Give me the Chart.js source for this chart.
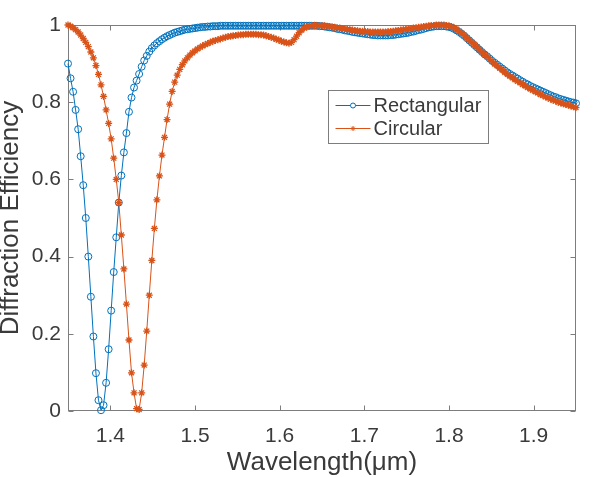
<!DOCTYPE html>
<html>
<head>
<meta charset="utf-8">
<script src="https://cdn.jsdelivr.net/npm/chart.js@4.4.1/dist/chart.umd.min.js"></script>
<style>
  html, body { margin: 0; padding: 0; background: #fff; }
  #wrap { width: 593px; height: 477px; }
</style>
</head>
<body>
<div id="wrap"><canvas id="chart" width="593" height="477"></canvas></div>
<script>
// sampling grid of the simulation (um)
const wlStart = 1.35;
const wlStep = 0.003;

const seriesNames = ['Rectangular', 'Circular'];

// values, one per wavelength sample
const rectangular = [
  0.900, 0.862, 0.827, 0.780, 0.730, 0.660, 0.585, 0.500, 0.400, 0.296,
  0.193, 0.098, 0.028, 0.002, 0.015, 0.073, 0.160, 0.260, 0.360, 0.450,
  0.540, 0.610, 0.670, 0.720, 0.775, 0.812, 0.838, 0.856, 0.873, 0.892,
  0.908, 0.920, 0.931, 0.940, 0.947, 0.953, 0.958, 0.963, 0.967, 0.971,
  0.974, 0.977, 0.980, 0.982, 0.984, 0.986, 0.988, 0.989, 0.990, 0.991,
  0.992, 0.993, 0.994, 0.995, 0.995, 0.996, 0.996, 0.997, 0.997, 0.997,
  0.998, 0.998, 0.998, 0.998, 0.998, 0.998, 0.998, 0.998, 0.998, 0.998,
  0.998, 0.998, 0.998, 0.998, 0.998, 0.998, 0.998, 0.998, 0.998, 0.998,
  0.998, 0.998, 0.998, 0.998, 0.998, 0.998, 0.998, 0.998, 0.998, 0.998,
  0.998, 0.998, 0.998, 0.998, 0.998, 0.998, 0.998, 0.998, 0.998, 0.997,
  0.997, 0.996, 0.995, 0.994, 0.993, 0.992, 0.990, 0.989, 0.988, 0.986,
  0.985, 0.984, 0.982, 0.981, 0.980, 0.979, 0.978, 0.977, 0.976, 0.975,
  0.974, 0.974, 0.973, 0.973, 0.973, 0.973, 0.973, 0.974, 0.974, 0.975,
  0.976, 0.977, 0.978, 0.979, 0.980, 0.982, 0.983, 0.985, 0.987, 0.988,
  0.990, 0.992, 0.994, 0.995, 0.996, 0.997, 0.997, 0.997, 0.997, 0.996,
  0.995, 0.993, 0.990, 0.986, 0.982, 0.977, 0.972, 0.966, 0.960, 0.954,
  0.948, 0.942, 0.936, 0.930, 0.924, 0.919, 0.913, 0.907, 0.902, 0.897,
  0.892, 0.887, 0.882, 0.877, 0.873, 0.869, 0.865, 0.861, 0.857, 0.853,
  0.849, 0.846, 0.842, 0.839, 0.836, 0.833, 0.830, 0.827, 0.824, 0.821,
  0.818, 0.815, 0.813, 0.810, 0.808, 0.806, 0.804, 0.802, 0.800, 0.799,
  0.797
];

const circular = [
  1.000, 0.997, 0.993, 0.988, 0.982, 0.974, 0.965, 0.955, 0.944, 0.930,
  0.915, 0.895, 0.872, 0.845, 0.815, 0.780, 0.745, 0.705, 0.655, 0.600,
  0.540, 0.456, 0.368, 0.277, 0.184, 0.099, 0.047, 0.006, 0.004, 0.047,
  0.119, 0.207, 0.300, 0.390, 0.473, 0.547, 0.609, 0.663, 0.709, 0.755,
  0.795, 0.828, 0.852, 0.870, 0.885, 0.897, 0.907, 0.915, 0.922, 0.928,
  0.933, 0.938, 0.942, 0.946, 0.949, 0.952, 0.955, 0.958, 0.960, 0.962,
  0.964, 0.966, 0.968, 0.970, 0.971, 0.972, 0.973, 0.974, 0.975, 0.975,
  0.976, 0.976, 0.976, 0.976, 0.976, 0.975, 0.975, 0.974, 0.972, 0.970,
  0.968, 0.966, 0.963, 0.961, 0.958, 0.956, 0.954, 0.953, 0.955, 0.962,
  0.971, 0.980, 0.987, 0.992, 0.995, 0.997, 0.998, 0.999, 0.999, 0.999,
  0.998, 0.998, 0.997, 0.996, 0.995, 0.994, 0.993, 0.992, 0.991, 0.990,
  0.989, 0.988, 0.987, 0.986, 0.985, 0.984, 0.984, 0.983, 0.983, 0.982,
  0.982, 0.982, 0.982, 0.982, 0.982, 0.982, 0.983, 0.983, 0.984, 0.985,
  0.986, 0.987, 0.988, 0.989, 0.990, 0.991, 0.992, 0.993, 0.994, 0.995,
  0.996, 0.997, 0.998, 0.999, 0.999, 1.000, 1.000, 1.000, 1.000, 0.999,
  0.998, 0.996, 0.993, 0.989, 0.984, 0.979, 0.973, 0.967, 0.961, 0.955,
  0.949, 0.943, 0.936, 0.930, 0.924, 0.918, 0.911, 0.905, 0.899, 0.894,
  0.888, 0.883, 0.877, 0.872, 0.867, 0.863, 0.858, 0.854, 0.850, 0.846,
  0.842, 0.838, 0.834, 0.831, 0.827, 0.824, 0.820, 0.817, 0.814, 0.811,
  0.808, 0.805, 0.803, 0.800, 0.798, 0.796, 0.794, 0.792, 0.790, 0.788,
  0.786
];

const xTicks = [1.4, 1.5, 1.6, 1.7, 1.8, 1.9];
const yTicks = [0, 0.2, 0.4, 0.6, 0.8, 1];
const xTitle = 'Wavelength(\u03BCm)';
const yTitle = 'Diffraction Efficiency';

const wavelengths = rectangular.map((_, i) => +(wlStart + i * wlStep).toFixed(3));
const toPoints = vals => vals.map((v, i) => ({ x: wavelengths[i], y: v }));

const blue = '#0072BD';
const orange = '#D95319';
const axisGray = '#7d7d7d';
const textGray = '#3a3a3a';
const fontFamily = '"Liberation Sans", Arial, Helvetica, sans-serif';

// matlab style box with inward ticks on all four sides
const boxTicks = {
  id: 'boxTicks',
  beforeDatasetsDraw(chart) {
    const { ctx, chartArea: a, scales } = chart;
    const L = Math.round(a.left) + 0.5, R = Math.round(a.right) - 0.5;
    const T = Math.round(a.top) + 0.5, B = Math.round(a.bottom) - 0.5;
    const tl = 5;
    ctx.save();
    ctx.strokeStyle = axisGray;
    ctx.lineWidth = 1;
    ctx.strokeRect(L, T, R - L, B - T);
    ctx.beginPath();
    xTicks.forEach(v => {
      const px = Math.round(scales.x.getPixelForValue(v)) + 0.5;
      ctx.moveTo(px, B); ctx.lineTo(px, B - tl);
      ctx.moveTo(px, T); ctx.lineTo(px, T + tl);
    });
    yTicks.forEach(v => {
      const py = Math.round(scales.y.getPixelForValue(v)) + 0.5;
      ctx.moveTo(L, py); ctx.lineTo(L + tl, py);
      ctx.moveTo(R, py); ctx.lineTo(R - tl, py);
    });
    ctx.stroke();
    ctx.restore();
  }
};

const legendBox = {
  id: 'legendBox',
  afterDraw(chart) {
    const { ctx, chartArea: a } = chart;
    const bx = a.left + 260.5, by = a.top + 65.5, bw = 160, bh = 53;
    ctx.save();
    ctx.fillStyle = '#fff';
    ctx.fillRect(bx, by, bw, bh);
    ctx.strokeStyle = axisGray;
    ctx.lineWidth = 1;
    ctx.strokeRect(bx, by, bw, bh);
    ctx.font = '20px ' + fontFamily;
    ctx.textBaseline = 'middle';
    ctx.textAlign = 'left';
    chart.data.datasets.forEach((ds, i) => {
      const cy = by + 15 + i * 23;
      ctx.strokeStyle = ds.borderColor;
      ctx.lineWidth = 1;
      ctx.beginPath();
      ctx.moveTo(bx + 7, cy);
      ctx.lineTo(bx + 42, cy);
      ctx.stroke();
      Chart.helpers.drawPoint(ctx, {
        pointStyle: ds.pointStyle, radius: 2.5, rotation: 0, borderWidth: 1
      }, bx + 24.5, cy);
      ctx.fillStyle = textGray;
      ctx.fillText(ds.label, bx + 45, cy + 1);
    });
    ctx.restore();
  }
};

new Chart(document.getElementById('chart'), {
  type: 'line',
  data: {
    datasets: [
      {
        label: seriesNames[0],
        data: toPoints(rectangular),
        borderColor: blue,
        borderWidth: 1,
        pointStyle: 'circle',
        pointRadius: 3.5,
        pointBorderWidth: 1,
        pointBorderColor: blue,
        pointBackgroundColor: 'rgba(0,0,0,0)',
        fill: false,
        tension: 0,
        clip: false,
        order: 1
      },
      {
        label: seriesNames[1],
        data: toPoints(circular),
        borderColor: orange,
        borderWidth: 1,
        pointStyle: 'star',
        pointRadius: 3.5,
        pointBorderWidth: 1.3,
        pointBorderColor: orange,
        pointBackgroundColor: orange,
        fill: false,
        tension: 0,
        clip: false,
        order: 0
      }
    ]
  },
  options: {
    responsive: false,
    devicePixelRatio: 1,
    animation: false,
    events: [],
    layout: { padding: { top: 25, right: 17, left: 0, bottom: 0 } },
    plugins: {
      legend: { display: false },
      tooltip: { enabled: false }
    },
    scales: {
      x: {
        type: 'linear',
        min: 1.35,
        max: 1.95,
        afterBuildTicks: s => { s.ticks = xTicks.map(v => ({ value: v })); },
        afterFit: s => { s.height = 66; },
        grid: { display: false, drawTicks: false },
        border: { display: false },
        ticks: {
          padding: 13,
          color: textGray,
          font: { family: fontFamily, size: 21 },
          callback: v => String(v),
          maxRotation: 0
        },
        title: {
          display: true,
          text: xTitle,
          color: textGray,
          font: { family: fontFamily, size: 26, lineHeight: 1 },
          padding: { top: 0, bottom: 1 }
        }
      },
      y: {
        type: 'linear',
        min: 0,
        max: 1,
        afterBuildTicks: s => { s.ticks = yTicks.map(v => ({ value: v })); },
        afterFit: s => { s.width = 68; },
        grid: { display: false, drawTicks: false },
        border: { display: false },
        ticks: {
          padding: 7,
          color: textGray,
          font: { family: fontFamily, size: 21 },
          callback: v => String(v)
        },
        title: {
          display: true,
          text: yTitle,
          color: textGray,
          font: { family: fontFamily, size: 26, lineHeight: 1 },
          padding: { top: -2, bottom: 0 }
        }
      }
    }
  },
  plugins: [boxTicks, legendBox]
});
</script>
</body>
</html>
